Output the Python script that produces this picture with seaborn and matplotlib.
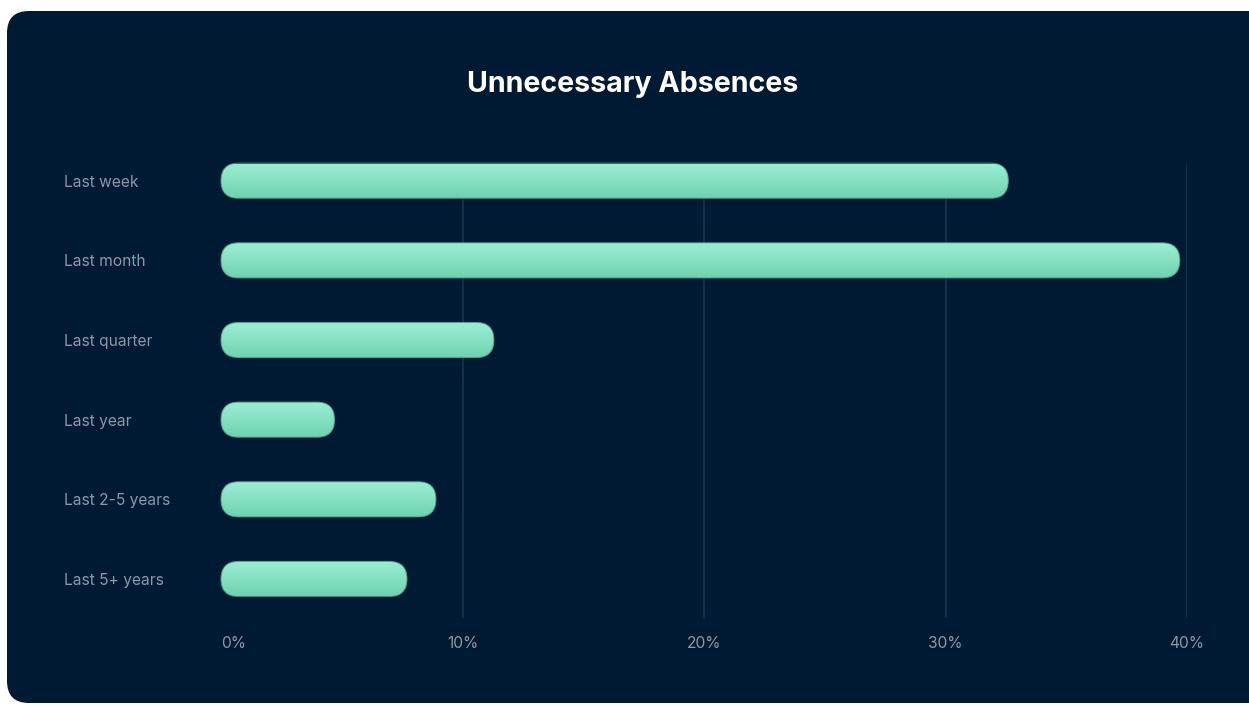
import matplotlib
matplotlib.use("Agg")
import matplotlib.pyplot as plt
import numpy as np
import pandas as pd
import seaborn as sns
from matplotlib.patches import FancyBboxPatch
from matplotlib.transforms import IdentityTransform
from matplotlib.colors import LinearSegmentedColormap

# Survey data
periods = ["Last week", "Last month", "Last quarter", "Last year", "Last 2-5 years", "Last 5+ years"]
shares = [32.6, 39.7, 11.3, 4.7, 8.9, 7.7]
xticks = [0, 10, 20, 30, 40]
xtick_labels = ["0%", "10%", "20%", "30%", "40%"]

CARD = "#011a33"
GRID = "#1c3250"
LABEL = "#8b98a8"
BAR_TOP = "#9cefd2"
BAR_BOTTOM = "#6fd2b0"

sns.set_theme(style="white")
plt.rcParams["font.family"] = ["Inter", "DejaVu Sans"]

W, H, DPI = 1249, 705, 100
fig = plt.figure(figsize=(W / DPI, H / DPI), dpi=DPI)
fig.patch.set_facecolor("white")

# Rounded dark card behind the chart (pixel coordinates)
card = FancyBboxPatch((7, 2), 1265, 692, boxstyle="round,pad=0,rounding_size=22",
                      transform=IdentityTransform(), facecolor=CARD, edgecolor="none",
                      zorder=-10)
fig.patches.append(card)

fig.text(633 / W, 1 - 84 / H, "Unnecessary Absences", color="white", fontsize=20.6,
         fontweight="bold", ha="center", va="center")

# Axes spanning 0%..40% horizontally
ax_left, ax_right = 221, 1187
ax_top, ax_bottom = 164, 618
ax = fig.add_axes([ax_left / W, 1 - ax_bottom / H, (ax_right - ax_left) / W, (ax_bottom - ax_top) / H])
ax.set_facecolor("none")
ax.set_zorder(1)

df = pd.DataFrame({"period": periods, "share": shares})
sns.barplot(data=df, x="share", y="period", orient="h", width=0.44, color=BAR_BOTTOM,
            ax=ax, zorder=3)

ax.set_xlim(0, 40)
ax.set_ylim(5.49, -0.21)
ax.set_xticks(xticks)
ax.set_xticklabels(xtick_labels)
ax.set_xlabel("")
ax.set_ylabel("")
for s in ax.spines.values():
    s.set_visible(False)

# Vertical gridlines (none at 0%)
for t in xticks[1:]:
    ax.axvline(t, color=GRID, lw=1.2, zorder=1)

ax.tick_params(axis="x", length=0, pad=13, labelsize=11.2, labelcolor=LABEL)
ax.tick_params(axis="y", length=0, pad=(ax_left - 64) * 72 / DPI, labelsize=11.2, labelcolor=LABEL)
for lab in ax.get_yticklabels():
    lab.set_ha("left")
ax.get_xticklabels()[0].set_ha("left")

# Replace the square bars with rounded, vertically shaded pills
cmap = LinearSegmentedColormap.from_list("pill", [BAR_TOP, BAR_BOTTOM])
grad = np.linspace(0, 1, 64).reshape(-1, 1)
for bar in list(ax.patches):
    x0, y0 = bar.get_x(), bar.get_y()
    w, h = bar.get_width(), bar.get_height()
    (px0, py0), (px1, py1) = ax.transData.transform([(x0, y0), (x0 + w, y0 + h)])
    lx, rx = min(px0, px1), max(px0, px1)
    by, ty = min(py0, py1), max(py0, py1)
    r = (ty - by) / 2
    pill = FancyBboxPatch((lx, by), rx - lx, ty - by,
                          boxstyle=f"round,pad=0,rounding_size={r}",
                          transform=IdentityTransform(), facecolor="none",
                          edgecolor="#5aa58f", lw=0.8, alpha=0.8, zorder=4)
    fig.patches.append(pill)
    img = ax.imshow(grad, cmap=cmap, aspect="auto", extent=(x0, x0 + w, y0 + h, y0),
                    origin="upper", zorder=3, interpolation="bilinear")
    img.set_clip_path(pill)
    bar.set_visible(False)

ax.set_xlim(0, 40)
ax.set_ylim(5.49, -0.21)

fig.savefig("out.png", dpi=DPI, facecolor=fig.get_facecolor())
